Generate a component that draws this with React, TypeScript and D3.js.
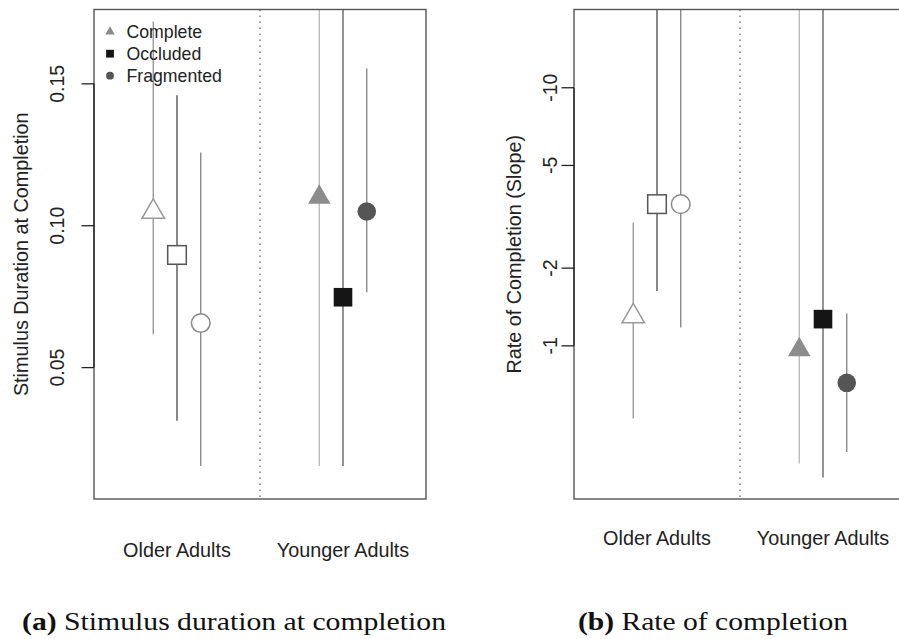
import React from "react";
import * as d3 from "d3";

// ---------- data ----------
const groups = ["Older Adults", "Younger Adults"];
const conditions = ["Complete", "Occluded", "Fragmented"];
const groupPos = [1, 2];
const condOffset = [-0.143, 0, 0.143];

// Panel (a): stimulus duration at completion  [group][condition]
const durMean = [
  [0.1049, 0.0897, 0.0657],
  [0.11, 0.0748, 0.105],
];
const durLow = [
  [0.0618, 0.0313, 0.0153],
  [0.0153, 0.0153, 0.0766],
];
const durHigh = [
  [0.172, 0.146, 0.1258],
  [0.25, 0.25, 0.1554],
];
const durTicks = [0.05, 0.1, 0.15];
const durTickLabels = ["0.05", "0.10", "0.15"];

// Panel (b): rate of completion (slope), log scale of magnitude
const rateMean = [
  [-1.301, -3.54, -3.54],
  [-0.966, -1.269, -0.719],
];
const rateLow = [
  [-0.523, -1.63, -1.178],
  [-0.35, -0.309, -0.388],
];
const rateHigh = [
  [-3.0, -40, -40],
  [-40, -40, -1.335],
];
const rateTicks = [-1, -2, -5, -10];
const rateTickLabels = ["-1", "-2", "-5", "-10"];

// ---------- styles ----------
const markerFill = ["#8c8c8c", "#151515", "#555555"];
const openStroke = ["#9a9a9a", "#555555", "#888888"];
const barColor = [
  ["#9a9a9a", "#555555", "#8a8a8a"],
  ["#bdbdbd", "#666666", "#8a8a8a"],
];
const SANS = "'Liberation Sans', Arial, Helvetica, sans-serif";
const SERIF = "'Liberation Serif', 'Times New Roman', serif";

function Marker({ cond, x, y, filled, size = 1 }: any) {
  const fill = filled ? markerFill[cond] : "white";
  const stroke = filled ? markerFill[cond] : openStroke[cond];
  const sw = filled ? 0 : 1.5;
  if (cond === 0) {
    const r = 13 * size;
    const xc = r * 0.866;
    const pts = `${x},${y - r} ${x + xc},${y + r / 2} ${x - xc},${y + r / 2}`;
    return <polygon points={pts} fill={fill} stroke={stroke} strokeWidth={sw} />;
  }
  if (cond === 1) {
    const h = 9.3 * size;
    return <rect x={x - h} y={y - h} width={2 * h} height={2 * h} fill={fill} stroke={stroke} strokeWidth={sw} />;
  }
  return <circle cx={x} cy={y} r={9.3 * size} fill={fill} stroke={stroke} strokeWidth={sw} />;
}

function Panel({ id, left, top, bottom, yScale, mean, low, high, ticks, tickLabels, yLabel, yLabelX, tickLabelX, xLabelY, legend }: any) {
  const width = 332;
  const x = d3.scaleLinear().domain([0.5, 2.5]).range([left, left + width]);
  const clipId = `clip-${id}`;
  const tickYs = ticks.map((t: number) => yScale(t));
  return (
    <g>
      <defs>
        <clipPath id={clipId}>
          <rect x={left} y={top} width={width} height={bottom - top} />
        </clipPath>
      </defs>
      {/* divider */}
      <line x1={x(1.5)} x2={x(1.5)} y1={top} y2={bottom} stroke="#777" strokeWidth={1.4} strokeDasharray="1.5 4.5" />
      <g clipPath={`url(#${clipId})`}>
        {groups.map((g, gi) =>
          conditions.map((c, ci) => {
            const cx = x(groupPos[gi] + condOffset[ci]);
            return (
              <g key={`${gi}-${ci}`}>
                <line x1={cx} x2={cx} y1={yScale(low[gi][ci])} y2={yScale(high[gi][ci])} stroke={barColor[gi][ci]} strokeWidth={1.4} />
                <Marker cond={ci} x={cx} y={yScale(mean[gi][ci])} filled={gi === 1} />
              </g>
            );
          })
        )}
      </g>
      {/* box */}
      <rect x={left} y={top} width={width} height={bottom - top} fill="none" stroke="#555" strokeWidth={1.4} />
      {/* y axis */}
      <line x1={left} x2={left} y1={d3.min(tickYs)} y2={d3.max(tickYs)} stroke="#222" strokeWidth={1.3} />
      {ticks.map((t: number, i: number) => (
        <g key={i}>
          <line x1={left - 12.5} x2={left} y1={yScale(t)} y2={yScale(t)} stroke="#222" strokeWidth={1.3} />
          <text
            transform={`translate(${tickLabelX},${yScale(t)}) rotate(-90)`}
            textAnchor="middle"
            fontFamily={SANS}
            fontSize={19.5}
            fill="#222"
          >
            {tickLabels[i]}
          </text>
        </g>
      ))}
      <text
        transform={`translate(${yLabelX},${(top + bottom) / 2}) rotate(-90)`}
        textAnchor="middle"
        fontFamily={SANS}
        fontSize={19.8}
        fill="#222"
      >
        {yLabel}
      </text>
      {groups.map((g, gi) => (
        <text key={g} x={x(groupPos[gi])} y={xLabelY} textAnchor="middle" fontFamily={SANS} fontSize={19.8} fill="#222">
          {g}
        </text>
      ))}
      {legend &&
        conditions.map((c, ci) => {
          const ly = 31.7 + ci * 22;
          return (
            <g key={c}>
              <Marker cond={ci} x={110} y={ly} filled={true} size={0.42} />
              <text x={126.5} y={ly + 6.4} fontFamily={SANS} fontSize={17.7} fill="#222">
                {c}
              </text>
            </g>
          );
        })}
    </g>
  );
}

export default function App() {
  const top = 9.5;
  const bottom = 499;
  const yA = d3.scaleLinear().domain([0.0037, 0.1762]).range([bottom, top]);
  const yBlog = d3.scaleLog().domain([0.255, 20.1]).range([bottom, top]);
  const yB = (v: number) => yBlog(Math.abs(v));
  return (
    <svg width={899} height={639} style={{ position: "absolute", left: 0, top: 0, background: "white" }}>
      <rect x={0} y={0} width={899} height={639} fill="white" />
      <Panel
        id="a"
        left={94}
        top={top}
        bottom={bottom}
        yScale={yA}
        mean={durMean}
        low={durLow}
        high={durHigh}
        ticks={durTicks}
        tickLabels={durTickLabels}
        yLabel="Stimulus Duration at Completion"
        yLabelX={27.8}
        tickLabelX={64}
        xLabelY={557}
        legend={true}
      />
      <Panel
        id="b"
        left={574}
        top={top}
        bottom={bottom}
        yScale={yB}
        mean={rateMean}
        low={rateLow}
        high={rateHigh}
        ticks={rateTicks}
        tickLabels={rateTickLabels}
        yLabel="Rate of Completion (Slope)"
        yLabelX={521}
        tickLabelX={557}
        xLabelY={545}
        legend={false}
      />
      <text x={22} y={630} fontFamily={SERIF} fontSize={26} fill="#111" textLength={424} lengthAdjust="spacingAndGlyphs">
        <tspan fontWeight="bold">(a)</tspan> Stimulus duration at completion
      </text>
      <text x={578} y={630} fontFamily={SERIF} fontSize={26} fill="#111" textLength={270} lengthAdjust="spacingAndGlyphs">
        <tspan fontWeight="bold">(b)</tspan> Rate of completion
      </text>
    </svg>
  );
}
